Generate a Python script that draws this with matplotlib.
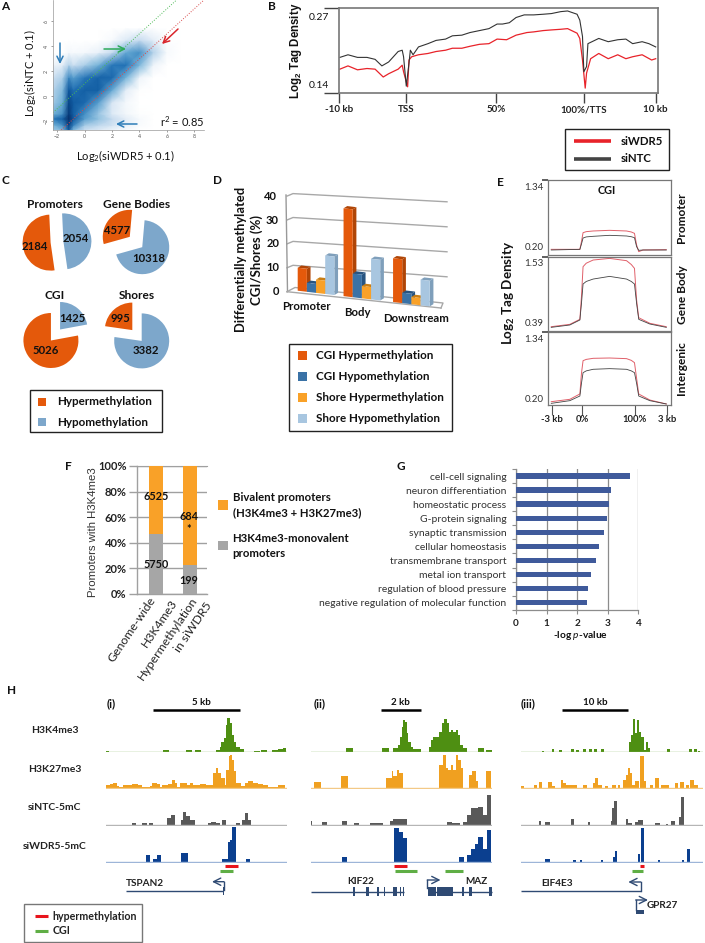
import matplotlib
matplotlib.use('Agg')
import matplotlib.pyplot as plt
from matplotlib.colors import LinearSegmentedColormap
from matplotlib.patches import Rectangle, Polygon
from matplotlib.transforms import Affine2D

plt.rcParams['font.family'] = ['Lato', 'DejaVu Sans']
plt.rcParams['mathtext.fontset'] = 'custom'
plt.rcParams['mathtext.rm'] = 'Lato'
plt.rcParams['mathtext.it'] = 'Lato:italic'
plt.rcParams['mathtext.bf'] = 'Lato:bold'
plt.rcParams['mathtext.default'] = 'regular'

W, H = 705, 943
ORANGE = '#E4590B'
LBLUE = '#7DA7CB'
SHORE = '#F9A128'
GREY = '#A6A6A6'

# A: density read on a coarse uneven grid
a_x = [-2.3, -1.6, -1.15, -0.8, 0, 1, 2, 3, 4, 5, 6, 7, 8.7]
a_y = [-2.7, -2.3, -1.8, -1.4, -0.5, 0.5, 1.5, 2.5, 3.5, 4.5, 5.5, 7.7]
a_density = [
    [.28, .35, .75, .35, .18, .12, .06, .03, 0, 0, 0, 0, 0],
    [.38, .50, .88, .55, .28, .22, .16, .08, .02, 0, 0, 0, 0],
    [.58, .70, 1.0, .75, .45, .32, .20, .10, .03, 0, 0, 0, 0],
    [.38, .50, .92, .70, .50, .30, .12, .05, .01, 0, 0, 0, 0],
    [.28, .40, .85, .72, .65, .45, .14, .04, 0, 0, 0, 0, 0],
    [.24, .35, .75, .62, .70, .70, .42, .10, .01, 0, 0, 0, 0],
    [.18, .25, .52, .45, .58, .68, .65, .38, .06, 0, 0, 0, 0],
    [.06, .10, .24, .18, .26, .38, .58, .60, .36, .06, 0, 0, 0],
    [0, 0, .04, .03, .04, .08, .20, .42, .50, .24, .03, 0, 0],
    [0, 0, 0, 0, 0, 0, .03, .12, .20, .10, .01, 0, 0],
    [0, 0, 0, 0, 0, 0, 0, 0, 0, 0, 0, 0, 0],
    [0, 0, 0, 0, 0, 0, 0, 0, 0, 0, 0, 0, 0],
]

# B
b_ntc_x = [1, 7, 14, 21, 27, 32, 37, 44, 47, 48, 50, 52, 53, 55, 59, 66, 72, 79, 84, 91, 97, 104, 111, 117,
           121, 126, 131, 137, 144, 151, 157, 164, 169, 176, 178, 180, 181, 183, 184, 187, 192, 199, 206,
           212, 217, 224, 229, 234]
b_ntc = [.194, .198, .194, .194, .191, .181, .187, .203, .205, .195, .150, .185, .205, .198, .210, .215, .220,
         .222, .227, .228, .232, .235, .238, .245, .245, .247, .255, .259, .259, .260, .261, .264, .265, .260,
         .251, .226, .172, .180, .215, .218, .223, .218, .221, .222, .215, .218, .215, .210]
b_wdr_x = [1, 7, 14, 21, 27, 33, 37, 44, 47, 48, 51, 52, 54, 59, 66, 72, 79, 84, 91, 97, 104, 111, 117, 124,
           131, 139, 144, 151, 157, 164, 169, 176, 178, 180, 182, 183, 186, 192, 199, 206, 212, 217, 224, 231, 234]
b_wdr = [.176, .181, .175, .177, .176, .164, .169, .176, .182, .172, .149, .190, .195, .198, .200, .203, .205,
         .208, .208, .211, .214, .215, .222, .221, .228, .232, .233, .235, .236, .237, .238, .231, .223, .190,
         .147, .170, .192, .200, .192, .198, .192, .195, .198, .190, .192]
b_tick_pos = [0.3, 50, 116.5, 181, 234]
b_tick_labels = ['-10 kb', 'TSS', '50%', '100%/TTS', '10 kb']

# C
c_titles = ['Promoters', 'Gene Bodies', 'CGI', 'Shores']
c_hyper = [2184, 4577, 5026, 995]
c_hypo = [2054, 10318, 1425, 3382]

# D
d_groups = ['Promoter', 'Body', 'Downstream']
d_cgi_hyper = [9.5, 36.3, 18.1]
d_cgi_hypo = [3.7, 9.8, 4.3]
d_shore_hyper = [5.5, 5.1, 3.0]
d_shore_hypo = [15.9, 16.8, 10.6]
d_labels = ['CGI Hypermethylation', 'CGI Hypomethylation', 'Shore Hypermethylation', 'Shore Hypomethylation']
d_colors = ['#E4590B', '#3A72A6', '#F9A128', '#A8C6E0']
d_sides = ['#B04506', '#285480', '#C97E14', '#7F9FBB']

# E
e_x = [-58, -4, -1, 2, 8, 21, 52, 84, 93, 99, 103, 107, 115, 159]
e_x2 = [-58, -23, -4, -1, 2, 8, 21, 52, 84, 93, 99, 103, 107, 128, 159]
e_pro_ntc = [.276, .286, .367, .458, .475, .484, .499, .489, .478, .463, .327, .271, .276, .276]
e_pro_wdr = [.286, .286, .403, .539, .555, .565, .575, .565, .550, .529, .352, .251, .276, .281]
e_body_ntc = [.446, .482, .559, .814, 1.111, 1.15, 1.187, 1.228, 1.187, 1.15, 1.111, .814, .569, .497, .446]
e_body_wdr = [.456, .492, .569, .917, 1.377, 1.43, 1.479, 1.504, 1.469, 1.41, 1.351, .865, .594, .508, .456]
e_int_ntc = [.226, .268, .341, .54, .707, .735, .76, .77, .76, .735, .707, .54, .341, .268, .216]
e_int_wdr = [.252, .289, .373, .697, .895, .915, .932, .937, .927, .90, .864, .618, .373, .278, .216]

# F
f_bivalent = [6525, 684]
f_mono = [5750, 199]
f_ticks = [0, 20, 40, 60, 80, 100]

# G
g_terms = ['cell-cell signaling', 'neuron differentiation', 'homeostatic process', 'G-protein signaling',
           'synaptic transmission', 'cellular homeostasis', 'transmembrane transport', 'metal ion transport',
           'regulation of blood pressure', 'negative regulation of molecular function']
g_values = [3.73, 3.10, 3.05, 2.97, 2.87, 2.73, 2.63, 2.45, 2.36, 2.32]

# H tracks, x in bins along the window, y in % of track height
i_k4_x = [318, 326, 490, 508, 557, 575, 585, 603, 650, 660, 665, 672, 678, 683, 690, 696, 702, 710, 720, 733,
          762, 780, 785, 803, 817, 835, 850, 860]
i_k4_y = [3, 0, 5, 0, 4, 0, 4, 0, 5, 15, 28, 40, 80, 100, 85, 50, 30, 15, 8, 0, 3, 0, 4, 0, 5, 7, 10, 0]
i_k27_x = [318, 330, 340, 350, 358, 370, 395, 415, 425, 450, 455, 470, 480, 485, 505, 515, 525, 530, 540, 560,
           570, 580, 600, 620, 635, 640, 650, 655, 665, 675, 680, 688, 692, 697, 703, 710, 725, 735, 745, 760,
           775, 790, 805, 835, 855]
i_k27_y = [8, 12, 15, 5, 3, 10, 13, 10, 3, 5, 15, 12, 3, 8, 12, 25, 15, 3, 15, 10, 15, 10, 12, 8, 10, 45, 60,
           45, 30, 10, 55, 95, 100, 85, 50, 15, 5, 15, 20, 15, 12, 10, 3, 10, 0]
i_ntc_x = [395, 408, 427, 442, 447, 460, 500, 512, 525, 542, 550, 558, 570, 585, 625, 635, 650, 660, 667, 680,
           708, 722, 728, 735, 745, 753]
i_ntc_y = [6, 0, 6, 0, 5, 0, 22, 30, 0, 15, 38, 28, 15, 0, 5, 10, 5, 0, 15, 0, 6, 0, 15, 35, 15, 0]
i_wdr_x = [437, 450, 458, 470, 482, 542, 565, 667, 685, 692, 698, 710, 740, 752]
i_wdr_y = [20, 0, 8, 20, 0, 28, 0, 10, 60, 65, 105, 0, 10, 0]

ii_k4_x = [-12, 8, 97, 118, 130, 145, 150, 155, 160, 165, 170, 175, 182, 190, 212, 237, 243, 250, 260, 268, 275,
           283, 290, 297, 303, 310, 317, 323, 330, 340, 352, 385, 403, 408, 425]
ii_k4_y = [10, 0, 10, 0, 10, 20, 45, 75, 95, 88, 55, 30, 15, 8, 0, 15, 35, 45, 45, 60, 85, 97, 85, 60, 65, 60, 65,
           50, 20, 10, 0, 10, 0, 5, 0]
ii_k27_x = [-108, -88, -28, -6, 108, 125, 130, 142, 146, 160, 268, 280, 288, 295, 303, 310, 318, 325, 333, 340,
            358, 367, 378, 384, 408, 424]
ii_k27_y = [18, 0, 35, 0, 30, 50, 35, 55, 45, 0, 70, 100, 60, 55, 70, 55, 100, 85, 60, 0, 40, 50, 20, 0, 50, 0]
ii_ntc_x = [-118, -115, -85, -70, -24, -9, 13, 27, 60, 100, 120, 130, 172, 290, 305, 330, 340, 350, 362, 385, 400,
            410, 424]
ii_ntc_y = [12, 0, 10, 0, 13, 0, 5, 0, 5, 0, 12, 17, 0, 8, 5, 0, 8, 30, 50, 55, 30, 90, 0]
ii_wdr_x = [-24, -9, 133, 148, 160, 172, 327, 342, 352, 362, 375, 385, 400, 412, 424]
ii_wdr_y = [15, 0, 102, 90, 72, 0, 16, 0, 20, 40, 55, 75, 40, 95, 0]

iii_k4_x = [575, 583, 605, 613, 628, 636, 663, 672, 678, 686, 700, 708, 718, 726, 733, 741, 752, 762, 838, 845,
            850, 856, 862, 868, 875, 884, 890, 896, 900, 953, 962, 1017, 1028, 1033, 1042, 1045, 1052]
iii_k4_y = [3, 0, 7, 0, 5, 0, 7, 0, 4, 0, 7, 0, 7, 0, 7, 0, 7, 0, 30, 50, 98, 55, 95, 60, 45, 5, 30, 10, 0, 8, 0,
            8, 0, 7, 0, 3, 0]
iii_k27_x = [513, 523, 552, 562, 566, 575, 595, 605, 615, 632, 640, 648, 680, 700, 712, 728, 735, 745, 755, 765,
             775, 785, 798, 805, 812, 820, 828, 835, 842, 848, 856, 868, 872, 882, 890, 900, 910, 915, 928, 935,
             958, 975, 985, 992, 1002, 1008, 1018, 1022, 1032, 1045]
iii_k27_y = [5, 0, 10, 0, 18, 0, 18, 5, 0, 25, 15, 8, 0, 8, 0, 15, 30, 10, 0, 5, 0, 8, 0, 8, 0, 25, 40, 60, 45,
             10, 20, 0, 95, 20, 0, 10, 0, 30, 0, 8, 0, 15, 0, 18, 0, 8, 0, 25, 10, 0]
iii_ntc_x = [567, 573, 585, 600, 663, 672, 714, 720, 783, 788, 793, 802, 828, 835, 848, 855, 865, 880, 915, 932,
             948, 955, 965, 975, 988, 993, 1002]
iii_ntc_y = [13, 0, 8, 0, 18, 0, 8, 0, 12, 50, 72, 0, 18, 5, 0, 8, 15, 0, 6, 0, 4, 0, 12, 0, 25, 85, 0]
iii_wdr_x = [586, 600, 670, 677, 690, 696, 752, 760, 790, 795, 803, 865, 870, 875, 884, 925, 931, 996, 1003, 1012, 1020]
iii_wdr_y = [8, 0, 7, 0, 7, 0, 7, 0, 15, 32, 0, 25, 0, 102, 0, 7, 0, 7, 0, 40, 0]

h_rows = ['H3K4me3', 'H3K27me3', 'siNTC-5mC', 'siWDR5-5mC']
h_colors = ['#4E8F12', '#F0A020', '#595959', '#0B3F8F']
h_base_colors = ['#8DB86A', '#F3C987', '#B5B5B5', '#9DB5D8']


def px_ax(x0, y0, x1, y1):
    return fig.add_axes([x0 / W, 1 - y1 / H, (x1 - x0) / W, (y1 - y0) / H])


def T(x, y, s, size=8.4, weight='bold', ha='center', va='center', color='#111111', **kw):
    ov.text(x, y, s, fontsize=size, fontweight=weight, ha=ha, va=va, color=color, **kw)


fig = plt.figure(figsize=(W / 100, H / 100), dpi=100, facecolor='white')

# ---- A
ax = px_ax(53, 0, 204, 130)
cm = LinearSegmentedColormap.from_list('dens', ['#ffffff', '#c6dbef', '#6baed6', '#2171b5', '#084f95', '#08306b'])
ax.pcolormesh(a_x, a_y, a_density, shading='gouraud', cmap=cm, vmin=0, vmax=1)
ax.plot([-2.3, 6.7], [-1.3, 7.7], color='#4DBB55', lw=.7, ls=':')
ax.plot([-1.7, 8.7], [-2.7, 7.7], color='#D84A4A', lw=.7, ls=':')
ax.set_xlim(-2.3, 8.7)
ax.set_ylim(-2.7, 7.7)
ax.set_xticks([-2, 0, 2, 4, 6, 8])
ax.set_yticks([-2, 0, 2, 4, 6])
ax.tick_params(labelsize=3.8, length=1.5, width=.4, pad=1.5, colors='#555555')
plt.setp(ax.get_yticklabels(), rotation=90, va='center')
for s in ['top', 'right']:
    ax.spines[s].set_visible(False)
for s in ['left', 'bottom']:
    ax.spines[s].set_color('#999999')
    ax.spines[s].set_linewidth(.5)

# ---- B
ax = px_ax(338.5, 7.7, 658, 92.7)
ax.plot(b_wdr_x, b_wdr, color='#E8232A', lw=.9)
ax.plot(b_ntc_x, b_ntc, color='#333333', lw=.8)
ax.set_xlim(0, 235.7)
ax.set_ylim(.14, .27)
ax.set_xticks(b_tick_pos)
ax.set_xticklabels(b_tick_labels, fontsize=7, fontweight='bold', color='#222222')
ax.set_yticks([.14, .27])
ax.set_yticklabels([])
ax.tick_params(axis='x', length=7, width=1, color='#444444', pad=2)
ax.tick_params(axis='y', length=11, width=1, color='#444444')
for s in ax.spines.values():
    s.set_color('#777777')
    s.set_linewidth(1.2)
ax.patch.set_alpha(0)

# ---- C
c_centers = [(57, 242), (136, 242), (55.5, 335), (137, 335.5)]
c_radii = [28, 27, 27.5, 27.5]
c_starts = [92.7, 85, 90, 90]
c_explode = [.23, .30, .26, .26]
for i in range(4):
    cx, cy = c_centers[i]
    r = c_radii[i]
    s = 45
    ax = px_ax(cx - s, cy - s, cx + s, cy + s)
    ax.pie([c_hyper[i], c_hypo[i]], colors=[ORANGE, LBLUE], startangle=c_starts[i],
           explode=[c_explode[i]] * 2)
    ax.set_xlim(-s / r, s / r)
    ax.set_ylim(-s / r, s / r)

# ---- D
k = .45
ax = px_ax(280, 190, 450, 315)
ax.set_xlim((280 - 297.7) / 9.17, (450 - 297.7) / 9.17)
ax.set_ylim((290.7 - 315) / 2.42, (290.7 - 190) / 2.42)
ax.axis('off')
shear = Affine2D.from_values(1, -k, 0, 1, 0, 0) + ax.transData
d_series = [d_cgi_hyper, d_cgi_hypo, d_shore_hyper, d_shore_hypo]
d_starts = [0, 5, 10.4]
dx, dy = .4, 1.1

# ---- E
e_boxes = [(180, 255, .20, 1.34), (256.7, 331, .39, 1.53), (332.3, 405, .20, 1.34)]
e_lines = [(e_x, e_pro_wdr, e_pro_ntc), (e_x2, e_body_wdr, e_body_ntc), (e_x2, e_int_wdr, e_int_ntc)]
for n in range(3):
    y0, y1, lo, hi = e_boxes[n]
    ex = px_ax(547.7, y0, 671, y1)
    xs, red, blk = e_lines[n]
    ex.plot(xs, red, color='#E0606A', lw=.7)
    ex.plot(xs, blk, color='#444444', lw=.6)
    ex.set_xlim(-64.7, 167.9)
    ex.set_ylim(lo, hi)
    ex.set_yticks([hi])
    ex.set_yticklabels([])
    ex.tick_params(axis='y', length=4.5, width=1.2, color='#444444')
    if n == 2:
        ex.set_xticks([-57, 0, 100, 160])
        ex.set_xticklabels(['-3 kb', '0%', '100%', '3 kb'], fontsize=6.8, fontweight='bold', color='#222222')
        ex.tick_params(axis='x', length=7, width=.8, color='#555555', pad=.5)
    else:
        ex.set_xticks([])
    for s in ex.spines.values():
        s.set_color('#777777')
        s.set_linewidth(.9)

# ---- F
ax = px_ax(137, 466, 207, 594)
pct_mono = [100 * m / (m + b) for m, b in zip(f_mono, f_bivalent)]
pct_biv = [100 - p for p in pct_mono]
ax.bar([0, 1], pct_mono, width=.41, color=GREY, zorder=3)
ax.bar([0, 1], pct_biv, width=.41, bottom=pct_mono, color=SHORE, zorder=3)
ax.set_xlim(-.559, 1.5)
ax.set_ylim(0, 100)
ax.set_yticks(f_ticks)
ax.set_yticklabels([str(t) + '%' for t in f_ticks], fontsize=8, fontweight='bold', color='#222222')
ax.set_xticks([])
ax.yaxis.grid(True, color='#A0A0A0', lw=1, zorder=0)
ax.tick_params(axis='y', length=6, width=1, color='#A0A0A0', pad=1.5)
for s in ['top', 'right']:
    ax.spines[s].set_visible(False)
for s in ['left', 'bottom']:
    ax.spines[s].set_color('#A0A0A0')
    ax.spines[s].set_linewidth(1)
ax.spines['top'].set_visible(True)
ax.spines['top'].set_color('#A0A0A0')
ax.patch.set_alpha(0)

# ---- G
ax = px_ax(516, 469, 638, 610)
ypos = list(range(len(g_terms)))
ax.barh(ypos, g_values, height=.39, color='#3F5A9B', zorder=3)
ax.set_xlim(0, 4)
ax.set_ylim(9.52, -.5)
ax.set_yticks(ypos)
ax.set_yticklabels(g_terms, fontsize=7.5, color='#333333')
ax.set_yticks([y - .5 for y in ypos] + [9.5], minor=True)
ax.set_xticks([0, 1, 2, 3, 4])
ax.set_xticklabels(['0', '1', '2', '3', '4'], fontsize=7.2, fontweight='bold', color='#222222')
ax.xaxis.grid(True, color='#8C8C8C', lw=.9, zorder=0)
ax.tick_params(axis='y', which='major', length=0, pad=7)
ax.tick_params(axis='y', which='minor', length=3, width=.8, color='#8C8C8C')
ax.tick_params(axis='x', length=3, width=.8, color='#8C8C8C', pad=3.5)
for s in ['top', 'right']:
    ax.spines[s].set_visible(False)
for s in ['left', 'bottom']:
    ax.spines[s].set_color('#8C8C8C')
    ax.spines[s].set_linewidth(.9)

# ---- H tracks
h_windows = [(318, 862), (-118, 427), (513, 1060)]
h_left = [106, 310.7, 521]
h_right = [287, 492.3, 703]
h_baselines = [751.7, 788, 825, 862]
h_data = [[(i_k4_x, i_k4_y), (i_k27_x, i_k27_y), (i_ntc_x, i_ntc_y), (i_wdr_x, i_wdr_y)],
          [(ii_k4_x, ii_k4_y), (ii_k27_x, ii_k27_y), (ii_ntc_x, ii_ntc_y), (ii_wdr_x, ii_wdr_y)],
          [(iii_k4_x, iii_k4_y), (iii_k27_x, iii_k27_y), (iii_ntc_x, iii_ntc_y), (iii_wdr_x, iii_wdr_y)]]
for c in range(3):
    for r in range(4):
        b = h_baselines[r]
        tr = px_ax(h_left[c], b - 36, h_right[c], b + .5)
        xs, ys = h_data[c][r]
        tr.fill_between(xs, ys, 0, step='post', color=h_colors[r], lw=0)
        tr.axhline(0, color=h_base_colors[r], lw=1)
        tr.set_xlim(*h_windows[c])
        tr.set_ylim(-1.5, 108)
        tr.axis('off')

# overlay in pixel coordinates, for text and the decorations
ov = fig.add_axes([0, 0, 1, 1], zorder=10)
ov.set_xlim(0, W)
ov.set_ylim(H, 0)
ov.axis('off')

for lab, x, y in [('A', 5, 7), ('B', 271.5, 6), ('C', 5, 181), ('D', 218, 181), ('E', 500, 182),
                  ('F', 68, 466), ('G', 400.5, 466), ('H', 12, 690)]:
    T(x, y, lab, size=8.5)

# A
for (x0, y0, x1, y1, col) in [(60, 43, 60, 64, '#2E7DB8'), (104, 49, 126, 49, '#2EAA5A'),
                              (178, 29, 162, 44, '#D9262C'), (137, 124, 116, 124, '#2E7DB8')]:
    ov.annotate('', xy=(x1, y1), xytext=(x0, y0),
                arrowprops=dict(arrowstyle='->', color=col, lw=1.1, mutation_scale=11, shrinkA=0, shrinkB=0))
T(182, 122, 'r$^2$ = 0.85', size=8, weight='normal')
T(125, 156, 'Log$_2$(siWDR5 + 0.1)', size=8, weight='normal')
T(30, 73, 'Log$_2$(siNTC + 0.1)', size=8, weight='normal', rotation=90)

# B
T(319, 17, '0.27', size=7.5, weight='normal')
T(319, 86, '0.14', size=7.5, weight='normal')
T(296, 51, 'Log$_2$ Tag Density', size=8.3, rotation=90, family='Liberation Sans')
ov.add_patch(Rectangle((565, 129), 104, 41, fill=False, ec='#222222', lw=1))
ov.plot([574, 611], [141.3, 141.3], color='#E8232A', lw=2.6, solid_capstyle='butt')
ov.plot([574, 611], [159, 159], color='#444444', lw=2.6, solid_capstyle='butt')
T(621, 141.5, 'siWDR5', size=8.2, ha='left')
T(621, 159, 'siNTC', size=8.2, ha='left')

# C
c_title_pos = [(55, 204), (137, 204), (55, 295.5), (137, 295.5)]
c_hyper_pos = [(35, 246), (117, 230), (46, 350), (120, 319)]
c_hypo_pos = [(76, 239), (149, 259), (72, 319), (146, 350)]
for i in range(4):
    T(*c_title_pos[i], c_titles[i], size=8.6)
    T(*c_hyper_pos[i], str(c_hyper[i]), size=8.2)
    T(*c_hypo_pos[i], str(c_hypo[i]), size=8.2)
ov.add_patch(Rectangle((29.5, 390), 132.5, 42, fill=False, ec='#222222', lw=1))
ov.add_patch(Rectangle((37.5, 397.5), 8, 8, color=ORANGE, lw=0))
ov.add_patch(Rectangle((37.5, 418), 8, 8, color=LBLUE, lw=0))
T(56.7, 401.5, 'Hypermethylation', ha='left')
T(56.7, 422, 'Hypomethylation', ha='left')

# D wall and floor behind the bars
for v in [10, 20, 30, 40]:
    y0 = 291.7 - 2.39 * v
    ov.plot([287, 293, 447], [y0, y0 - 2.5, y0 + 5.7 + (40 - v) * .11], color='#A8A8A8', lw=1, zorder=1)
ov.plot([286, 287.5], [195, 291.7], color='#999999', lw=1, zorder=1)
ov.plot([287, 295, 443, 441], [291.7, 287.5, 303, 308], color='#A8A8A8', lw=1, zorder=1)
ov.plot([287, 441], [291.7, 308], color='#A8A8A8', lw=1, zorder=1)
for g in range(3):
    for n in range(4):
        sl = d_starts[g] + n
        v = d_series[n][g]
        # side, top, then front face
        for pts, col in [([(sl + 1, 0), (sl + 1 + dx, dy), (sl + 1 + dx, v + dy), (sl + 1, v)], d_sides[n]),
                         ([(sl, v), (sl + 1, v), (sl + 1 + dx, v + dy), (sl + dx, v + dy)], d_sides[n]),
                         ([(sl, 0), (sl + 1, 0), (sl + 1, v), (sl, v)], d_colors[n])]:
            ov.add_patch(Polygon(pts, closed=True, facecolor=col, lw=0, transform=shear, zorder=2))
for v, x in zip([0, 10, 20, 30, 40], [276, 273, 273, 272, 270]):
    T(x, 291.7 - 2.39 * v, str(v), size=8)
T(306.7, 306.5, d_groups[0], size=8.2)
T(357, 312.5, d_groups[1], size=8.2)
T(416, 319, d_groups[2], size=8.2)
T(240.6, 259, 'Differentially methylated', size=9.3, rotation=90)
T(257, 260, 'CGI/Shores (%)', size=9.5, rotation=90)
ov.add_patch(Rectangle((289, 344), 163, 87, fill=False, ec='#222222', lw=1))
for n, y in enumerate([355.7, 376.7, 397.7, 418.7]):
    ov.add_patch(Rectangle((297.5, y - 4.5), 9, 9, color=d_colors[n], lw=0))
    T(315.7, y, d_labels[n], ha='left')

# E
for y, s in [(188, '1.34'), (247, '0.20'), (264, '1.53'), (323, '0.39'), (339, '1.34'), (399, '0.20')]:
    T(534, y, s, size=7, weight='normal', color='#333333')
T(607, 191, 'CGI', size=7.8)
T(509, 293, 'Log$_2$ Tag Density', size=9.6, rotation=90)
T(682, 217.5, 'Promoter', size=8.6, rotation=90)
T(682, 295, 'Gene Body', size=8.6, rotation=90)
T(682, 368, 'Intergenic', size=8.6, rotation=90)

# F
T(93, 532, 'Promoters with H3K4me3', size=8.2, weight='normal', rotation=90, family='Liberation Sans',
  color='#333333')
for x, y, s in [(156.5, 497, str(f_bivalent[0])), (156.5, 564, str(f_mono[0])), (189, 517, str(f_bivalent[1])),
                (189, 529, '*'), (189, 581, str(f_mono[1]))]:
    T(x, y, s, size=7.8)
for x, y, s in [(153, 598, 'Genome-wide'), (175, 600, 'H3K4me3'), (195, 598, 'Hypermethylation'),
                (209, 603, 'in siWDR5')]:
    T(x, y, s, size=8.8, weight='normal', ha='right', rotation=56, rotation_mode='anchor', color='#222222')
ov.add_patch(Rectangle((217.6, 500), 10, 9.5, color=SHORE, lw=0))
ov.add_patch(Rectangle((217.6, 540.5), 10, 9.5, color=GREY, lw=0))
for y, s in [(497.7, 'Bivalent promoters'), (513, '(H3K4me3 + H3K27me3)'), (538, 'H3K4me3-monovalent'),
             (553.7, 'promoters')]:
    T(232.6, y, s, ha='left', size=8.2)

# G
T(580, 636, '-log $\\it{p}$-value', size=7.3)

# H
for y, s in zip([730.7, 769, 808, 846.7], h_rows):
    T(54.7, y, s, size=7.5, color='#222222')
for x, s in [(106.7, '(i)'), (314, '(ii)'), (521, '(iii)')]:
    T(x, 704, s, size=8.2, ha='left')
for x0, x1, s in [(152.7, 240, '5 kb'), (381, 420.7, '2 kb'), (562.3, 627.7, '10 kb')]:
    ov.plot([x0, x1], [709.7, 709.7], color='black', lw=1.8, solid_capstyle='butt')
    T((x0 + x1) / 2 + 5 * (s == '5 kb'), 702.7, s, size=7)
for x0, x1, y, col in [(225.3, 238, 865.7, '#E8141C'), (220, 232.7, 871, '#5FAE45'),
                       (394, 406.7, 865.7, '#E8141C'), (395.3, 416.7, 871, '#5FAE45'), (445, 462.7, 871, '#5FAE45'),
                       (639.7, 644, 865.7, '#E8141C'), (631.7, 642.7, 871, '#5FAE45')]:
    ov.plot([x0, x1], [y, y], color=col, lw=2.2, solid_capstyle='butt')

# gene models
GENE = '#2F4A73'
gene_lines = [(126, 223, 890.7), (310.7, 404.3, 891.7), (428.3, 491.7, 891.7), (521, 640.7, 891)]
for x0, x1, y in gene_lines:
    ov.plot([x0, x1], [y, y], color=GENE, lw=1, solid_capstyle='butt')
kif22_exons = [(352.5, 355), (366, 369), (377, 379), (384, 385), (393, 397), (399.5, 401), (403, 404)]
maz_exons = [(428.3, 436), (436.7, 452.7), (461.7, 463.7), (469, 472), (488.7, 491.7)]
for x0, x1 in kif22_exons:
    ov.add_patch(Rectangle((x0, 887), x1 - x0, 9, color=GENE, lw=0))
for x0, x1 in maz_exons:
    ov.add_patch(Rectangle((x0, 887), x1 - x0, 9, color=GENE, lw=0))
ov.add_patch(Rectangle((222.5, 887), 1.5, 8, color=GENE, lw=0))
ov.add_patch(Rectangle((636, 909.5), 8, 4, color=GENE, lw=0))
for pts in [[(224, 890), (224, 881.7), (212, 881.7)], [(427.3, 888), (427.3, 880), (440.5, 880)],
            [(640.7, 891), (640.7, 882), (628.3, 882)], [(635.7, 910), (635.7, 900), (648, 900)]]:
    ov.plot([pts[0][0], pts[1][0]], [pts[0][1], pts[1][1]], color=GENE, lw=1)
    ov.annotate('', xy=pts[2], xytext=pts[1],
                arrowprops=dict(arrowstyle='->', color=GENE, lw=1, mutation_scale=13, shrinkA=0, shrinkB=0))
for x, y, s in [(145, 884, 'TSPAN2'), (361, 881, 'KIF22'), (476.7, 881, 'MAZ'), (557, 884, 'EIF4E3'),
                (662, 905.7, 'GPR27')]:
    T(x, y, s, size=7.2, color='#222222')

ov.add_patch(Rectangle((24, 904), 118, 38, fill=False, ec='#777777', lw=1))
ov.plot([35, 48.3], [916, 916], color='#E8141C', lw=2.2, solid_capstyle='butt')
ov.plot([35, 48.3], [930.7, 930.7], color='#5FAE45', lw=2.2, solid_capstyle='butt')
T(52.3, 916, 'hypermethylation', size=7.7, ha='left', color='#222222')
T(52.3, 930.7, 'CGI', size=7.7, ha='left', color='#222222')

fig.savefig('out.png', dpi=100)
